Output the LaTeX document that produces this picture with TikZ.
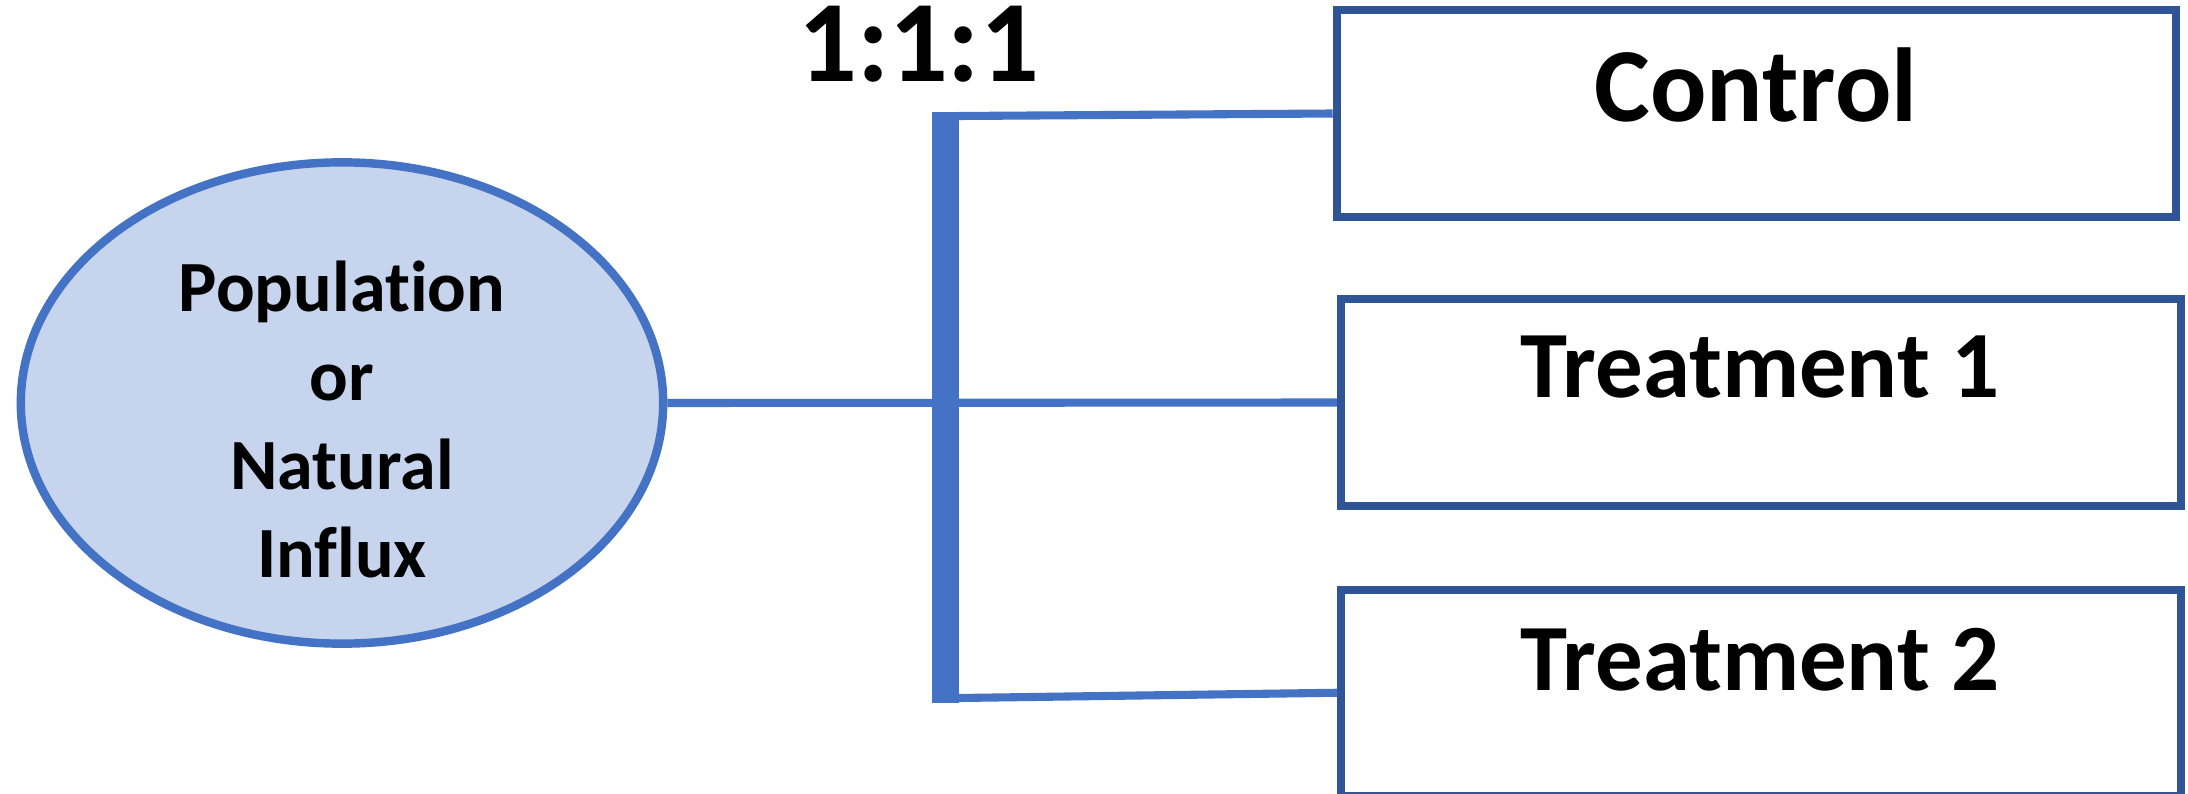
\documentclass[tikz,border=0pt]{standalone}
\usepackage{fontspec}
\setmainfont[Ligatures=NoCommon]{Carlito}
\usetikzlibrary{shapes.geometric}
\begin{document}
\begin{tikzpicture}[x=0.01cm, y=-0.01cm,
		popnode/.style={ellipse, inner sep=0, minimum width=6.42cm, minimum height=4.81cm, draw=lineblue, fill=popfill, line width=2.4pt},
		armbox/.style={rectangle, inner sep=0, minimum width=8.39cm, minimum height=2.06cm, draw=boxblue, line width=2.3pt},
		arm/.style={draw=lineblue, line width=2.3pt},
		armlbl/.style={anchor=base, inner sep=0, font=\fontsize{27pt}{32pt}\selectfont\bfseries}]
		\definecolor{lineblue}{RGB}{68,114,196}
		\definecolor{boxblue}{RGB}{47,85,151}
		\definecolor{popfill}{RGB}{198,212,237}
		\useasboundingbox (0,0) rectangle (2188,794);
		\node at (342,403) [popnode] (pop) {};
		\node at (342,419.5) [inner sep=0, align=center, font=\fontsize{20.5pt}{25.3pt}\selectfont\bfseries] (poplbl) {Population\\or\\Natural\\Influx};
		\node at (945.5,407.5) [rectangle, inner sep=0, minimum width=0.27cm, minimum height=5.91cm, fill=lineblue] (bar) {};
		\coordinate (btop) at (959,116);
		\coordinate (bbot) at (959,698);
		\node at (1756.5,113.5) [armbox] (ctrl) {};
		\node at (1761,402.5) [armbox] (trt1) {};
		\node at (1761,692.75) [armbox] (trt2) {};
		\draw[arm] (pop.east) -- (trt1.west);
		\draw[arm] (btop) -- (ctrl.west);
		\draw[arm] (bbot) -- (trt2.west);
		\node at (918.5,82) [anchor=base, inner sep=0, font=\fontsize{33pt}{40pt}\selectfont\bfseries] (ratio) {1:1:1};
		\node at (1756,121.5) [armlbl, font=\fontsize{29.9pt}{36pt}\selectfont\bfseries] (ctrllbl) {Control};
		\node at (1760,397) [armlbl] (trt1lbl) {Treatment 1};
		\node at (1760,690) [armlbl] (trt2lbl) {Treatment 2};
	\end{tikzpicture}
\end{document}
